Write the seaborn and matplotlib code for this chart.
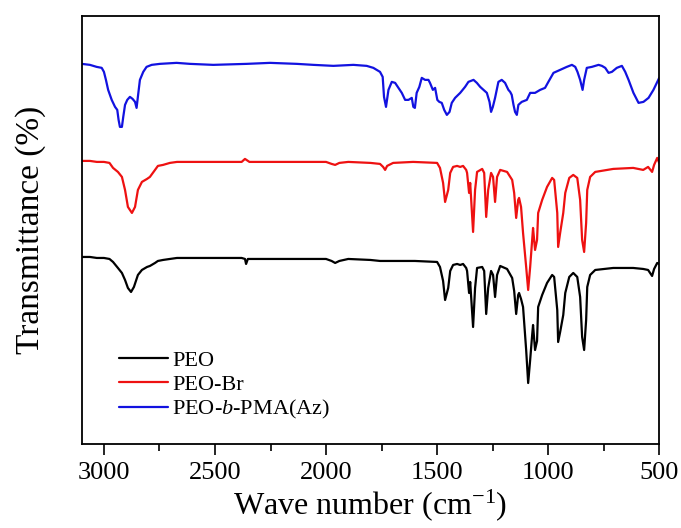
import pandas as pd
import matplotlib.pyplot as plt
import matplotlib.ticker as mticker
import seaborn as sns

sns.set_style("white")
plt.rcParams["font.family"] = ["Liberation Serif", "DejaVu Serif"]
plt.rcParams["mathtext.fontset"] = "custom"
plt.rcParams["mathtext.rm"] = "Liberation Serif"
plt.rcParams["mathtext.it"] = "Liberation Serif:italic"
plt.rcParams["text.color"] = "black"
plt.rcParams["axes.labelcolor"] = "black"
plt.rcParams["xtick.color"] = "black"

# ── FTIR spectra (wavenumber cm-1, transmittance a.u. with offsets) ──
peo_wn = [3100, 3063, 3032, 3000, 2975, 2959, 2937, 2919, 2905, 2892, 2878, 2865,
          2847, 2829, 2806, 2793, 2770, 2757, 2734, 2703, 2671, 2500, 2380, 2365,
          2360, 2352, 2100, 2000, 1975, 1959, 1940, 1900, 1800, 1757, 1700, 1600,
          1500, 1487, 1473, 1464, 1450, 1441, 1428, 1410, 1396, 1383, 1369, 1365,
          1356, 1351, 1338, 1329, 1320, 1297, 1288, 1279, 1270, 1257, 1248, 1239,
          1230, 1216, 1185, 1162, 1153, 1144, 1135, 1131, 1122, 1113, 1099, 1090,
          1081, 1072, 1068, 1059, 1050, 1045, 1027, 1005, 982, 973, 959, 955, 946,
          932, 923, 905, 887, 869, 856, 847, 838, 829, 824, 811, 788, 707, 617,
          572, 550, 532, 523, 509, 500]
peo_t = [188, 188, 187, 187, 186, 183, 177, 172, 165, 157, 153, 158,
         170, 175, 178, 179, 182, 184, 185, 186, 187, 187, 187, 186,
         181, 186, 186, 186, 184, 182, 184, 186, 185, 184, 184, 184,
         183, 178, 164, 145, 157, 174, 180, 181, 180, 181, 177, 174,
         152, 163, 118, 157, 177, 178, 174, 131, 157, 174, 170, 148,
         170, 179, 176, 167, 154, 131, 150, 152, 146, 138, 95, 62,
         85, 110, 120, 95, 104, 138, 150, 162, 170, 168, 135, 103, 113,
         130, 152, 168, 172, 168, 148, 108, 95, 125, 158, 170, 175, 177, 177,
         176, 175, 169, 176, 182, 181]

peobr_wn = [3100, 3063, 3032, 3000, 2975, 2959, 2937, 2919, 2905, 2892, 2874, 2860,
            2847, 2829, 2806, 2793, 2770, 2757, 2734, 2703, 2671, 2500, 2380, 2365,
            2345, 2100, 2000, 1975, 1959, 1940, 1900, 1800, 1757, 1743, 1734, 1725,
            1698, 1608, 1500, 1487, 1473, 1464, 1450, 1441, 1428, 1410, 1396, 1383,
            1369, 1365, 1356, 1351, 1338, 1329, 1320, 1297, 1288, 1279, 1270, 1257,
            1248, 1239, 1230, 1216, 1185, 1162, 1153, 1144, 1135, 1131, 1122, 1113,
            1099, 1090, 1081, 1072, 1068, 1059, 1050, 1045, 1027, 1005, 982, 973,
            959, 955, 946, 932, 923, 905, 887, 869, 856, 847, 838, 829, 824, 811,
            788, 707, 617, 572, 550, 532, 523, 509, 500]
peobr_t = [284, 284, 283, 283, 282, 277, 273, 268, 255, 238, 232, 238,
           255, 263, 266, 268, 275, 279, 280, 282, 283, 283, 283, 286,
           283, 283, 283, 281, 280, 282, 283, 282, 281, 278, 275, 279,
           282, 283, 282, 277, 262, 243, 255, 272, 278, 279, 278, 279,
           275, 272, 252, 262, 213, 255, 273, 276, 272, 228, 255, 272,
           268, 243, 268, 275, 273, 265, 252, 227, 245, 247, 238, 212,
           178, 155, 178, 205, 217, 195, 205, 232, 245, 258, 267, 265,
           232, 198, 212, 232, 252, 267, 270, 267, 245, 205, 193, 222, 255, 268,
           273, 276, 277, 275, 278, 273, 280, 287, 282]

pma_wn = [3100, 3063, 3033, 3010, 3000, 2991, 2981, 2965, 2950, 2940, 2934, 2928,
          2919, 2913, 2905, 2895, 2883, 2871, 2860, 2853, 2845, 2838, 2823, 2808,
          2785, 2748, 2673, 2613, 2508, 2357, 2252, 2132, 2057, 1967, 1877, 1817,
          1787, 1757, 1745, 1739, 1730, 1719, 1704, 1689, 1674, 1659, 1644, 1629,
          1614, 1607, 1600, 1592, 1580, 1569, 1554, 1539, 1532, 1519, 1509, 1499,
          1490, 1479, 1468, 1456, 1444, 1434, 1419, 1396, 1374, 1359, 1336, 1321,
          1306, 1291, 1276, 1264, 1257, 1249, 1239, 1224, 1209, 1194, 1179, 1171,
          1164, 1156, 1149, 1141, 1134, 1119, 1096, 1081, 1059, 1036, 1014, 999,
          976, 946, 916, 893, 878, 868, 856, 845, 838, 826, 803, 773, 758, 743,
          728, 713, 691, 668, 653, 638, 616, 593, 571, 548, 526, 500]
pma_t = [381, 380, 378, 377, 373, 365, 355, 345, 338, 335, 325, 318,
         318, 328, 340, 345, 348, 346, 343, 337, 352, 365, 373, 378,
         380, 381, 382, 381, 380, 381, 382, 381, 380, 379, 380, 379,
         377, 373, 368, 348, 338, 355, 363, 362, 357, 352, 345, 345,
         347, 338, 337, 352, 358, 367, 365, 365, 362, 355, 357, 345,
         343, 342, 335, 330, 333, 342, 347, 352, 358, 363, 365, 362,
         358, 355, 352, 343, 333, 338, 347, 363, 365, 362, 355, 353,
         350, 340, 333, 330, 340, 343, 345, 352, 352, 355, 357, 363,
         372, 375, 378, 380, 378, 373, 365, 355, 365, 377, 378, 380, 379, 377,
         372, 373, 377, 379, 373, 365, 352, 342, 343, 347, 355, 367]

samples = ["PEO", "PEO-Br", "PEO-$b$-PMA(Az)"]
colors = ["#000000", "#ee1111", "#1212e0"]
x_ticks = [3000, 2500, 2000, 1500, 1000, 500]

df = pd.concat([
    pd.DataFrame({"wavenumber": peo_wn, "T": peo_t, "sample": samples[0]}),
    pd.DataFrame({"wavenumber": peobr_wn, "T": peobr_t, "sample": samples[1]}),
    pd.DataFrame({"wavenumber": pma_wn, "T": pma_t, "sample": samples[2]}),
], ignore_index=True)

fig, ax = plt.subplots(figsize=(6.81, 5.28), dpi=100)
fig.subplots_adjust(left=0.120, right=0.968, top=0.970, bottom=0.159)

sns.lineplot(data=df, x="wavenumber", y="T", hue="sample", hue_order=samples,
             palette=colors, estimator=None, linewidth=1.6, legend=False, ax=ax)

ax.set_xlim(3100, 500)
ax.set_ylim(1, 429)
ax.set_xticks(x_ticks)
ax.xaxis.set_minor_locator(mticker.MultipleLocator(250))
ax.set_yticks([])
ax.tick_params(axis="x", which="major", direction="out", length=8, width=1.2,
               labelsize=19, pad=5, bottom=True)
ax.tick_params(axis="x", which="minor", direction="out", length=5, width=1.2,
               bottom=True)
for s in ax.spines.values():
    s.set_color("black")
    s.set_linewidth(1.3)

ax.set_xlabel("Wave number (cm$^{-1}$)", fontsize=23, labelpad=2)
ax.set_ylabel("Transmittance (%)", fontsize=24, labelpad=26)

ax.legend(ax.get_lines()[:3], samples, loc="upper left",
          bbox_to_anchor=(0.045, 0.245), frameon=False, fontsize=16,
          handlelength=2.2, handletextpad=0.2, labelspacing=0.15, borderpad=0)

plt.savefig("out.png", dpi=100)
plt.close()
